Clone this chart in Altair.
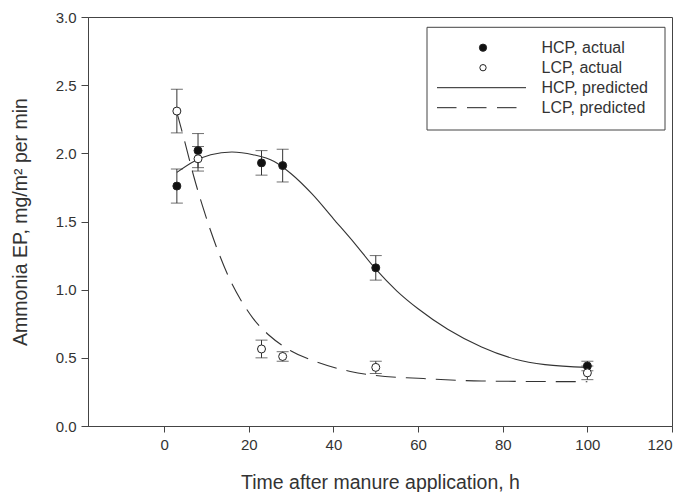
import altair as alt
import pandas as pd

# ---- data ----
time_h = [3, 8, 23, 28, 50, 100]
hcp_actual = [1.76, 2.02, 1.93, 1.91, 1.16, 0.44]
hcp_err = [0.125, 0.125, 0.09, 0.12, 0.09, 0.035]
lcp_actual = [2.31, 1.96, 0.565, 0.51, 0.43, 0.39]
lcp_err = [0.16, 0.09, 0.065, 0.035, 0.045, 0.05]

hcp_pred_x = [3, 7, 11, 16, 21, 26, 30, 35, 40, 45, 50, 55, 60, 67, 75, 83, 90, 100]
hcp_pred_y = [1.86, 1.94, 1.99, 2.01, 1.99, 1.94, 1.85, 1.70, 1.52, 1.34, 1.15, 0.99,
              0.86, 0.71, 0.58, 0.49, 0.45, 0.43]
lcp_pred_x = [3, 5, 7, 9, 11, 13, 15, 18, 21, 25, 30, 36, 44, 50, 60, 75, 100]
lcp_pred_y = [2.30, 2.07, 1.83, 1.62, 1.43, 1.26, 1.11, 0.93, 0.79, 0.66, 0.55, 0.47,
              0.40, 0.37, 0.35, 0.33, 0.325]

series_names = ["HCP, actual", "LCP, actual", "HCP, predicted", "LCP, predicted"]
x_ticks = [0, 20, 40, 60, 80, 100, 120]
y_ticks = [0.0, 0.5, 1.0, 1.5, 2.0, 2.5, 3.0]

# ---- tables ----
pts = pd.DataFrame({
    "t": time_h * 2,
    "v": hcp_actual + lcp_actual,
    "e": hcp_err + lcp_err,
    "series": [series_names[0]] * len(time_h) + [series_names[1]] * len(time_h),
})
pts["lo"] = pts["v"] - pts["e"]
pts["hi"] = pts["v"] + pts["e"]
hcp_line = pd.DataFrame({"t": hcp_pred_x, "v": hcp_pred_y})
lcp_line = pd.DataFrame({"t": lcp_pred_x, "v": lcp_pred_y})

INK = "#333333"
FONT = "Liberation Sans"

xs = alt.Scale(domain=[-18, 120], nice=False, zero=False)
ys = alt.Scale(domain=[0, 3], nice=False, zero=False)

X = alt.X("t:Q", scale=xs, axis=alt.Axis(
    title="Time after manure application, h", values=x_ticks, grid=False,
    tickSize=6, labelPadding=5, titleY=62, titleBaseline="alphabetic"))
Y = alt.Y("v:Q", scale=ys, axis=alt.Axis(
    title="Ammonia EP, mg/m² per min", values=y_ticks, format=".1f", grid=False,
    tickSize=7, labelPadding=5, titleX=-62, titleBaseline="alphabetic"))

bars = alt.Chart(pts).mark_rule(color=INK, strokeWidth=1).encode(
    x="t:Q", y=alt.Y("lo:Q"), y2="hi:Q")
cap_lo = alt.Chart(pts).mark_tick(orient="horizontal", size=12, thickness=1, color=INK).encode(
    x="t:Q", y="lo:Q")
cap_hi = alt.Chart(pts).mark_tick(orient="horizontal", size=12, thickness=1, color=INK).encode(
    x="t:Q", y="hi:Q")

line_h = alt.Chart(hcp_line).mark_line(color=INK, strokeWidth=1.1, interpolate="monotone").encode(
    x=X, y=Y)
line_l = alt.Chart(lcp_line).mark_line(color=INK, strokeWidth=1.1, interpolate="monotone",
                                       strokeDash=[20, 10]).encode(x="t:Q", y="v:Q")

points = alt.Chart(pts).mark_point(filled=True, opacity=1, stroke="#222222", strokeWidth=1,
                                   size=64, shape="circle").encode(
    x="t:Q", y="v:Q",
    fill=alt.Fill("series:N", scale=alt.Scale(domain=series_names[:2],
                                              range=["#111111", "white"]), legend=None),
)

# ---- hand-built legend box (top right, inside plot) ----
row_y = [30.7, 50.7, 70.7, 90.7]
one = lambda name: pd.DataFrame({"label": [name]})

legend_layers = [
    alt.Chart(one("box")).mark_rect(fill="white", stroke="#444444", strokeWidth=1).encode(
        x=alt.value(339), x2=alt.value(577), y=alt.value(10.3), y2=alt.value(113)),
    alt.Chart(one(series_names[0])).mark_point(filled=True, opacity=1, fill="#111111",
                                               stroke="#222222", strokeWidth=1, size=52,
                                               shape="circle").encode(
        x=alt.value(395), y=alt.value(row_y[0])),
    alt.Chart(one(series_names[1])).mark_point(filled=True, opacity=1, fill="white",
                                               stroke="#222222", strokeWidth=1, size=40,
                                               shape="circle").encode(
        x=alt.value(395), y=alt.value(row_y[1])),
    alt.Chart(one(series_names[2])).mark_rule(color="#222222", strokeWidth=1).encode(
        x=alt.value(349), x2=alt.value(438), y=alt.value(row_y[2])),
    alt.Chart(one(series_names[3])).mark_rule(color="#222222", strokeWidth=1,
                                              strokeDash=[19.5, 10.5]).encode(
        x=alt.value(349), x2=alt.value(430), y=alt.value(row_y[3])),
]
for name, yy in zip(series_names, row_y):
    legend_layers.append(
        alt.Chart(one(name)).mark_text(align="left", baseline="middle", font=FONT,
                                       fontSize=16, color=INK).encode(
            text="label:N", x=alt.value(453.5), y=alt.value(yy)))

chart = alt.layer(line_h, bars, cap_lo, cap_hi, line_l, points, *legend_layers).properties(
    width=584, height=409,
    padding={"left": 80, "top": 9, "right": 14, "bottom": 66},
    autosize=alt.AutoSizeParams(type="none"),
).configure_view(stroke="#444444", strokeWidth=1).configure_axis(
    domainColor="#444444", tickColor="#444444", labelColor=INK, titleColor=INK,
    labelFont=FONT, titleFont=FONT, labelFontSize=15, titleFontSize=19.5,
    titleFontWeight="normal",
)

chart.save("out.html", embed_options={"renderer": "svg", "actions": False})
